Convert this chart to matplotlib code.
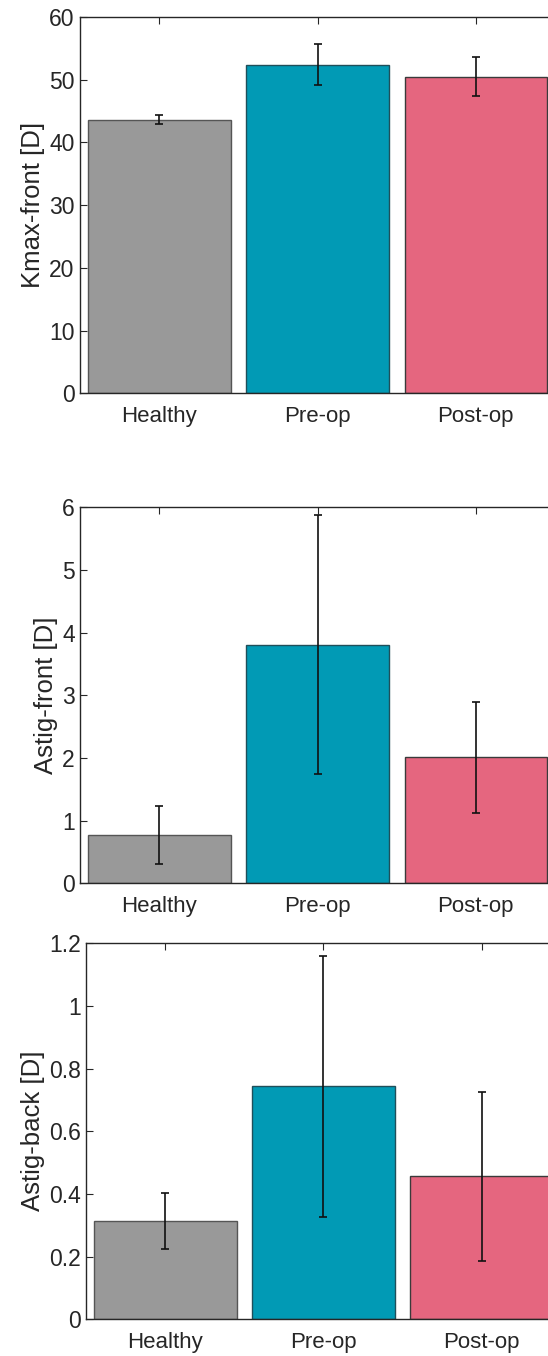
import numpy as np
import matplotlib
matplotlib.use("Agg")
import matplotlib.pyplot as plt

plt.rcParams['font.family'] = ['Liberation Sans', 'DejaVu Sans']

groups = ["Healthy", "Pre-op", "Post-op"]
colors = ["#999999", "#019ab5", "#e5667f"]
edge_colors = ["#555555", "#1f4f5a", "#3a3a3a"]

kmax_mean = [43.6, 52.4, 50.5]
kmax_err = [0.7, 3.3, 3.05]

astig_front_mean = [0.77, 3.81, 2.01]
astig_front_err = [0.465, 2.07, 0.89]

astig_back_mean = [0.314, 0.743, 0.456]
astig_back_err = [0.09, 0.416, 0.27]

panels = [
    (kmax_mean, kmax_err, "Kmax-front [D]", (0, 60), [0, 10, 20, 30, 40, 50, 60],
     ["0", "10", "20", "30", "40", "50", "60"], [0.1465, 0.7100, 0.8662, 0.2775]),
    (astig_front_mean, astig_front_err, "Astig-front [D]", (0, 6), [0, 1, 2, 3, 4, 5, 6],
     ["0", "1", "2", "3", "4", "5", "6"], [0.1465, 0.3486, 0.8662, 0.2773]),
    (astig_back_mean, astig_back_err, "Astig-back [D]", (0, 1.2), [0, 0.2, 0.4, 0.6, 0.8, 1.0, 1.2],
     ["0", "0.2", "0.4", "0.6", "0.8", "1", "1.2"], [0.1575, 0.0271, 0.8655, 0.2773]),
]

fig = plt.figure(figsize=(5.48, 13.56), dpi=100)

x = np.arange(1, len(groups) + 1)
for mean, err, label, ylim, yticks, yticklabels, pos in panels:
    ax = fig.add_axes(pos)
    ax.bar(x, mean, width=0.9, color=colors, edgecolor=edge_colors, linewidth=1.0, zorder=2)
    ax.errorbar(x, mean, yerr=err, fmt="none", ecolor="#111111", elinewidth=1.2,
                capsize=3, capthick=1.2, zorder=3)
    ax.set_xlim(0.5, 3.5)
    ax.set_ylim(*ylim)
    ax.set_xticks(x)
    ax.set_xticklabels(groups, fontsize=16, color="#262626")
    ax.set_yticks(yticks)
    ax.set_yticklabels(yticklabels, fontsize=16.5, color="#262626")
    ax.set_ylabel(label, fontsize=18.5, color="#262626", labelpad=3)
    ax.tick_params(direction="in", length=5, width=0.8, top=True, right=False,
                   color="#262626")
    ax.tick_params(axis="y", pad=4)
    ax.tick_params(axis="x", pad=9.5)
    for s in ax.spines.values():
        s.set_linewidth(1.0)
        s.set_color("#262626")
    ax.spines["right"].set_visible(False)

fig.savefig("out.png", dpi=100)
